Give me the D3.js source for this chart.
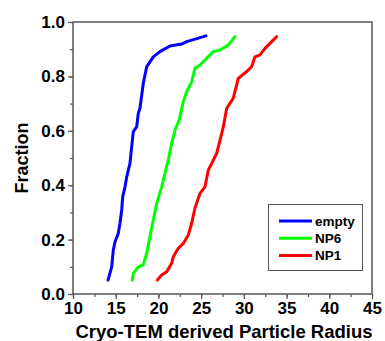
<!DOCTYPE html>
<html>
<head>
<meta charset="utf-8">
<script src="https://cdn.jsdelivr.net/npm/d3@7"></script>
<style>
  body { margin: 0; background: #fff; }
  svg { display: block; font-family: Arial, "Liberation Sans", sans-serif; }
</style>
</head>
<body>
<svg id="chart" width="385" height="341"></svg>
<script>
// cumulative fraction vs radius
const emptyR = [14.10, 14.53, 14.72, 14.92, 15.30, 15.50, 15.70, 15.82, 16.09, 16.29, 16.67, 16.87, 17.06, 17.46, 17.64, 17.84, 18.23, 18.63, 19.40, 20.18, 21.35, 22.72, 23.31, 25.57];
const emptyF = [0.051, 0.100, 0.162, 0.192, 0.223, 0.260, 0.309, 0.358, 0.394, 0.431, 0.480, 0.542, 0.597, 0.615, 0.664, 0.683, 0.775, 0.836, 0.872, 0.891, 0.912, 0.919, 0.928, 0.949];

const np6R = [16.94, 17.06, 17.64, 18.23, 18.63, 19.01, 19.40, 19.80, 20.38, 20.77, 21.16, 21.55, 21.94, 22.44, 22.91, 23.31, 23.89, 24.28, 24.87, 25.65, 26.42, 27.21, 28.18, 28.96];
const np6F = [0.051, 0.076, 0.100, 0.107, 0.150, 0.211, 0.272, 0.333, 0.394, 0.444, 0.493, 0.554, 0.603, 0.640, 0.707, 0.744, 0.780, 0.830, 0.842, 0.867, 0.891, 0.897, 0.915, 0.946];

const np1R = [19.87, 20.38, 20.97, 21.55, 21.74, 22.33, 22.91, 23.50, 23.89, 24.28, 24.87, 25.45, 25.84, 26.24, 26.82, 27.21, 27.60, 27.99, 28.76, 29.35, 30.33, 30.92, 31.30, 31.89, 32.47, 33.26, 33.84];
const np1F = [0.051, 0.070, 0.082, 0.113, 0.137, 0.168, 0.186, 0.217, 0.260, 0.316, 0.370, 0.394, 0.456, 0.480, 0.517, 0.566, 0.615, 0.683, 0.719, 0.793, 0.818, 0.836, 0.872, 0.879, 0.903, 0.928, 0.946];

const seriesNames = ['empty', 'NP6', 'NP1'];
const seriesColors = ['#0000ff', '#00ff00', '#ff0000'];

const xTicks = [10, 15, 20, 25, 30, 35, 40, 45];
const yTicks = [0.0, 0.2, 0.4, 0.6, 0.8, 1.0];

const series = [
  { name: seriesNames[0], color: seriesColors[0], pts: emptyR.map((r, i) => [r, emptyF[i]]) },
  { name: seriesNames[1], color: seriesColors[1], pts: np6R.map((r, i) => [r, np6F[i]]) },
  { name: seriesNames[2], color: seriesColors[2], pts: np1R.map((r, i) => [r, np1F[i]]) },
];

const svg = d3.select('#chart');
const pLeft = 73, pRight = 372, pTop = 22, pBottom = 294;

const x = d3.scaleLinear().domain([10, 45]).range([pLeft, pRight]);
const y = d3.scaleLinear().domain([0, 1]).range([pBottom, pTop]);

const frameColor = '#555';

// minor ticks, then major ticks with labels
svg.append('g').attr('transform', `translate(0,${pBottom})`)
  .call(d3.axisBottom(x).tickValues(d3.range(10, 45.1, 2.5)).tickSize(3).tickFormat(''));
svg.append('g').attr('transform', `translate(0,${pBottom})`)
  .call(d3.axisBottom(x).tickValues(xTicks).tickSize(5).tickPadding(3).tickFormat(d3.format('d')));

svg.append('g').attr('transform', `translate(${pLeft},0)`)
  .call(d3.axisLeft(y).tickValues(d3.range(0, 1.01, 0.1)).tickSize(3).tickFormat(''));
svg.append('g').attr('transform', `translate(${pLeft},0)`)
  .call(d3.axisLeft(y).tickValues(yTicks).tickSize(5).tickPadding(3).tickFormat(d3.format('.1f')));

svg.selectAll('.domain').remove();
svg.selectAll('.tick line').attr('stroke', frameColor).attr('stroke-width', 1.2);
svg.selectAll('.tick text')
  .attr('fill', '#000')
  .attr('font-size', 17)
  .attr('font-weight', 'bold')
  .attr('font-family', 'Arial, "Liberation Sans", sans-serif');

// frame
svg.append('rect')
  .attr('x', pLeft).attr('y', pTop)
  .attr('width', pRight - pLeft).attr('height', pBottom - pTop)
  .attr('fill', 'none')
  .attr('stroke', frameColor)
  .attr('stroke-width', 1.5);

// curves
const line = d3.line().x(d => x(d[0])).y(d => y(d[1]));
svg.append('g').selectAll('path')
  .data(series)
  .join('path')
  .attr('d', d => line(d.pts))
  .attr('fill', 'none')
  .attr('stroke', d => d.color)
  .attr('stroke-width', 3)
  .attr('stroke-linejoin', 'round')
  .attr('stroke-linecap', 'round');

// axis titles
svg.append('text')
  .attr('x', 224).attr('y', 338)
  .attr('text-anchor', 'middle')
  .attr('font-size', 18.5).attr('font-weight', 'bold')
  .text('Cryo-TEM derived Particle Radius');

svg.append('text')
  .attr('transform', `translate(28,${(pTop + pBottom) / 2}) rotate(-90)`)
  .attr('text-anchor', 'middle')
  .attr('font-size', 18).attr('font-weight', 'bold')
  .text('Fraction');

// legend
const lg = svg.append('g');
lg.append('rect')
  .attr('x', 268.5).attr('y', 204.5)
  .attr('width', 94).attr('height', 66)
  .attr('fill', '#fff')
  .attr('stroke', frameColor).attr('stroke-width', 1);
const items = lg.selectAll('g.item')
  .data(series)
  .join('g')
  .attr('class', 'item')
  .attr('transform', (d, i) => `translate(279,${221 + i * 17.2})`);
items.append('line')
  .attr('x1', 0).attr('x2', 33)
  .attr('stroke', d => d.color).attr('stroke-width', 3);
items.append('text')
  .attr('x', 36).attr('y', 5)
  .attr('font-size', 13.5).attr('font-weight', 'bold')
  .text(d => d.name);
</script>
</body>
</html>
